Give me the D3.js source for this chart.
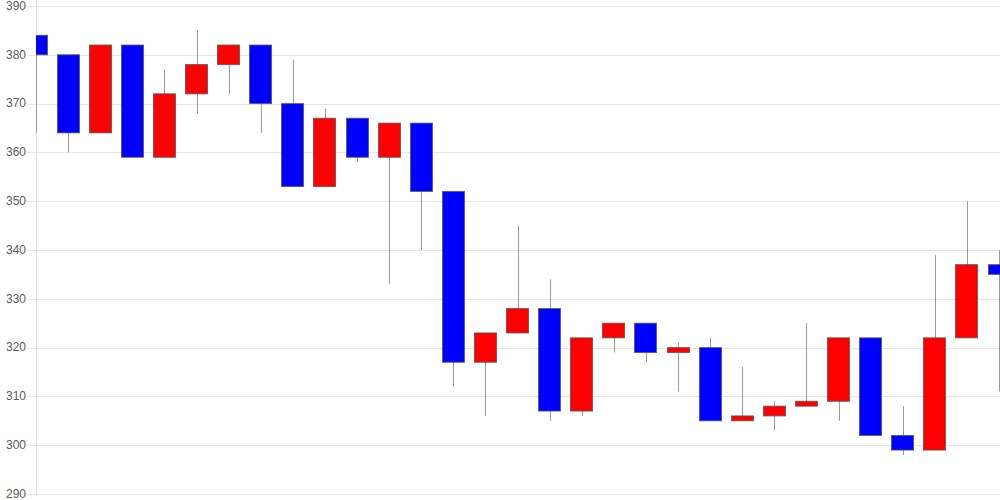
<!DOCTYPE html>
<html><head><meta charset="utf-8">
<script src="https://cdn.jsdelivr.net/npm/d3@7"></script>
<style>body{margin:0;background:#fff;overflow:hidden}svg{display:block}</style>
</head><body>
<svg id="c" width="1000" height="500"></svg>
<script>
const openV  = [384,380,364,382,359,372,378,382,370,353,367,359,366,352,317,323,328,307,322,325,319,320,305,306,308,309,322,302,299,322,337];
const closeV = [380,364,382,359,372,378,382,370,353,367,359,366,352,317,323,328,307,322,325,319,320,305,306,308,309,322,302,299,322,337,335];
const highV  = [384,380,382,382,377,385,382,382,379,369,367,366,366,352,323,345,334,322,325,325,321,322,316,309,325,322,322,308,339,350,340];
const lowV   = [364,360,364,359,359,368,372,364,353,353,358,333,340,312,306,323,305,306,319,317,311,305,305,303,308,305,302,298,299,322,311];
const yTicks = [290,300,310,320,330,340,350,360,370,380,390];

const svg = d3.select("#c");
const x = d3.scaleLinear().domain([0, openV.length-1]).range([36, 999]);
const y = d3.scaleLinear().domain([290, 390]).range([494, 6]);
const bw = 23;

svg.append("g").selectAll("line").data(yTicks).join("line")
  .attr("x1", 27).attr("x2", 1000)
  .attr("y1", d => Math.round(y(d)) + 0.5).attr("y2", d => Math.round(y(d)) + 0.5)
  .attr("stroke", "#e6e6e6").attr("stroke-width", 1);
svg.append("g").selectAll("text").data(yTicks).join("text")
  .attr("x", 26).attr("y", d => y(d)).attr("dy", "0.32em")
  .attr("text-anchor", "end")
  .attr("font-family", "Liberation Sans, Arial, sans-serif")
  .attr("font-size", 12).attr("fill", "#5a5a5a")
  .text(d => d);
svg.append("line").attr("x1", 36.5).attr("x2", 36.5).attr("y1", 0).attr("y2", 494)
  .attr("stroke", "#dddddd");

svg.append("clipPath").attr("id", "pc").append("rect")
  .attr("x", 36).attr("y", 0).attr("width", 964).attr("height", 500);

const idx = d3.range(openV.length);
const g = svg.append("g").attr("clip-path", "url(#pc)");
g.selectAll("line.w").data(idx).join("line").attr("class", "w")
  .attr("x1", i => Math.round(x(i)) + 0.5).attr("x2", i => Math.round(x(i)) + 0.5)
  .attr("y1", i => y(highV[i])).attr("y2", i => y(lowV[i]))
  .attr("stroke", "#999").attr("stroke-width", 1);
g.selectAll("rect.b").data(idx).join("rect").attr("class", "b")
  .attr("x", i => Math.round(x(i) - bw/2) + 0.5)
  .attr("width", bw - 1)
  .attr("y", i => y(Math.max(openV[i], closeV[i])))
  .attr("height", i => Math.max(1, y(Math.min(openV[i], closeV[i])) - y(Math.max(openV[i], closeV[i]))))
  .attr("fill", i => closeV[i] < openV[i] ? "#0000ff" : "#ff0000")
  .attr("stroke", "#555").attr("stroke-opacity", 0.8).attr("stroke-width", 1);
</script>
</body></html>
